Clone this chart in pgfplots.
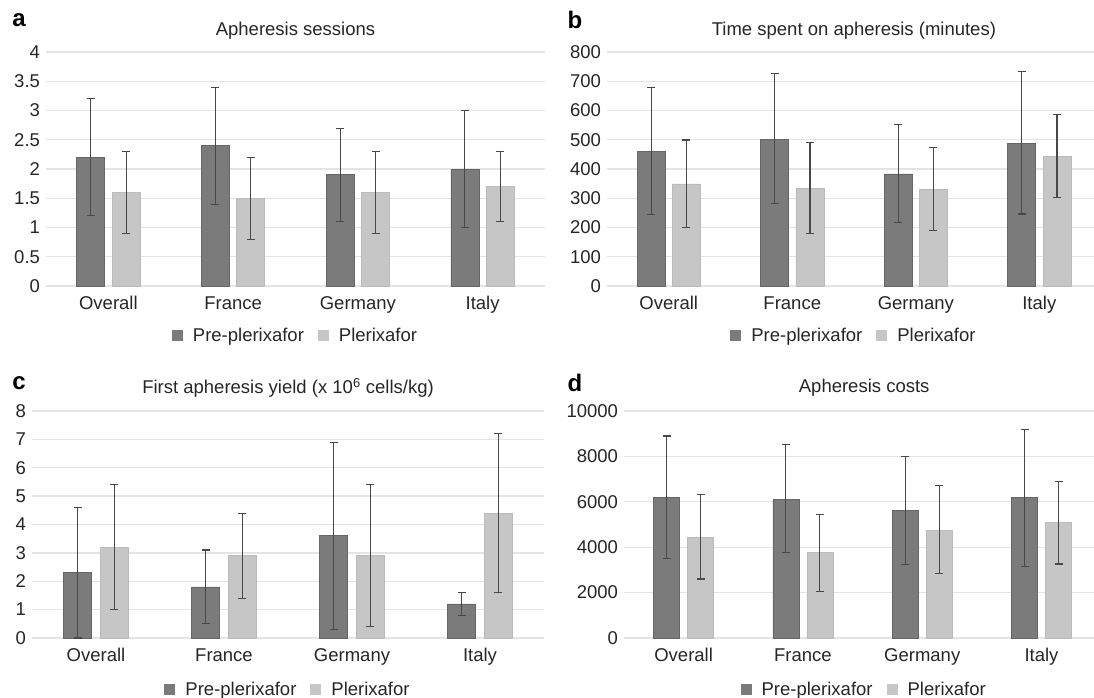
\documentclass[border=0pt]{standalone}
\usepackage{pgfplots}
\pgfplotsset{compat=1.18}
\usepackage{fontspec}
\setmainfont{Liberation Sans}
\definecolor{darkbar}{HTML}{7B7B7B}
\definecolor{darkedge}{HTML}{666666}
\definecolor{lightbar}{HTML}{C6C6C6}
\definecolor{lightedge}{HTML}{BBBBBB}
\definecolor{gridcol}{HTML}{E4E4E4}
\definecolor{errcol}{HTML}{484848}
\definecolor{txt}{HTML}{262626}
\pgfplotsset{
  panel/.style={
    scale only axis,
    ymin=0,
    xmin=-0.5,
    xtick={0,1,2,3},
    xticklabels={Overall,France,Germany,Italy},
    axis x line=bottom, axis y line=left,
    axis line style={draw=none},
    major tick length=0pt,
    tick style={draw=none},
    ymajorgrids,
    major grid style={line width=1.3pt, gridcol},
    font=\fontsize{18.5}{22}\selectfont,
    tick label style={font=\fontsize{18.5}{22}\selectfont, text=txt},
    yticklabel style={xshift=-2.5pt},
    xticklabel style={yshift=-7pt},
    /pgf/number format/assume math mode=true,
    /pgf/number format/1000 sep={},
    scaled y ticks=false,
    clip=false,
    legend columns=2,
    legend style={draw=none, fill=none, font=\fontsize{18.5}{22}\selectfont, text=txt,
      anchor=center, /tikz/every even column/.append style={column sep=12pt}},
    error bars/y dir=both, error bars/y explicit,
    error bars/error bar style={line width=1.1pt, errcol},
    error bars/error mark options={line width=1.1pt, errcol, mark size=4pt, rotate=90},
  },
  pre/.style={fill=darkbar, draw=darkedge, line width=0.8pt},
  pl/.style={fill=lightbar, draw=lightedge, line width=0.8pt},
}
\begin{document}
\begin{tikzpicture}
\useasboundingbox (0,0) rectangle (1094pt,697pt);
% ---------- a ----------
\begin{axis}[panel, at={(46pt,411pt)}, anchor=south west, width=499pt, height=234pt,
  xmax=3.5, ymax=4, ytick={0,0.5,...,4},
  ybar=7.4pt, bar width=28pt,
  legend style={at={(0.5,-0.213)}},
  legend image code/.code={\path[draw=none,fill=none] (0pt,0pt) rectangle (19pt,0.1pt); \fill[#1,draw=none] (0pt,-5.5pt) rectangle (11pt,5.5pt);}]
\addplot[pre] coordinates {(0,2.2) += (0,1.0) -= (0,1.0) (1,2.4) += (0,1.0) -= (0,1.0) (2,1.9) += (0,0.8) -= (0,0.8) (3,2.0) += (0,1.0) -= (0,1.0)};
\addplot[pl] coordinates {(0,1.6) += (0,0.7) -= (0,0.7) (1,1.5) += (0,0.7) -= (0,0.7) (2,1.6) += (0,0.7) -= (0,0.7) (3,1.7) += (0,0.6) -= (0,0.6)};
\legend{Pre-plerixafor, Plerixafor}
\node[text=txt, font=\fontsize{18.5}{22}\selectfont] at (axis description cs:0.5,1.092) {Apheresis sessions};
\end{axis}
% ---------- b ----------
\begin{axis}[panel, at={(607pt,411pt)}, anchor=south west, width=487pt, height=234pt,
  xmax=3.443, ymax=800, ytick={0,100,...,800},
  ybar=7.4pt, bar width=28pt,
  legend style={at={(0.507,-0.213)}},
  legend image code/.code={\path[draw=none,fill=none] (0pt,0pt) rectangle (19pt,0.1pt); \fill[#1,draw=none] (0pt,-5.5pt) rectangle (11pt,5.5pt);}]
\addplot[pre] coordinates {(0,460) += (0,220) -= (0,215) (1,500) += (0,227) -= (0,219) (2,383) += (0,169) -= (0,166) (3,488) += (0,245) -= (0,242)};
\addplot[pl] coordinates {(0,349) += (0,150) -= (0,150) (1,334) += (0,156) -= (0,153) (2,329) += (0,143) -= (0,139) (3,442) += (0,143) -= (0,140)};
\legend{Pre-plerixafor, Plerixafor}
\node[text=txt, font=\fontsize{18.5}{22}\selectfont] at (axis description cs:0.507,1.092) {Time spent on apheresis (minutes)};
\end{axis}
% ---------- c ----------
\begin{axis}[panel, at={(32pt,59pt)}, anchor=south west, width=512pt, height=227pt,
  xmax=3.5, ymax=8, ytick={0,1,...,8},
  ybar=8.4pt, bar width=28pt,
  legend style={at={(0.5,-0.225)}},
  legend image code/.code={\path[draw=none,fill=none] (0pt,0pt) rectangle (19pt,0.1pt); \fill[#1,draw=none] (0pt,-5.5pt) rectangle (11pt,5.5pt);}]
\addplot[pre] coordinates {(0,2.3) += (0,2.3) -= (0,2.3) (1,1.8) += (0,1.3) -= (0,1.3) (2,3.6) += (0,3.3) -= (0,3.3) (3,1.2) += (0,0.4) -= (0,0.4)};
\addplot[pl] coordinates {(0,3.2) += (0,2.2) -= (0,2.2) (1,2.9) += (0,1.5) -= (0,1.5) (2,2.9) += (0,2.5) -= (0,2.5) (3,4.4) += (0,2.8) -= (0,2.8)};
\legend{Pre-plerixafor, Plerixafor}
\node[text=txt, font=\fontsize{18.5}{22}\selectfont] at (axis description cs:0.5,1.103) {First apheresis yield (x 10\textsuperscript{6} cells/kg)};
\end{axis}
% ---------- d ----------
\begin{axis}[panel, at={(624pt,59pt)}, anchor=south west, width=470pt, height=227pt,
  xmax=3.44, ymax=10000, ytick={0,2000,...,10000},
  ybar=8pt, bar width=26pt,
  legend style={at={(0.511,-0.225)}},
  legend image code/.code={\path[draw=none,fill=none] (0pt,0pt) rectangle (19pt,0.1pt); \fill[#1,draw=none] (0pt,-5.5pt) rectangle (11pt,5.5pt);}]
\addplot[pre] coordinates {(0,6200) += (0,2700) -= (0,2700) (1,6100) += (0,2420) -= (0,2350) (2,5600) += (0,2400) -= (0,2350) (3,6200) += (0,3000) -= (0,3050)};
\addplot[pl] coordinates {(0,4430) += (0,1900) -= (0,1830) (1,3750) += (0,1690) -= (0,1700) (2,4750) += (0,1950) -= (0,1920) (3,5080) += (0,1820) -= (0,1820)};
\legend{Pre-plerixafor, Plerixafor}
\node[text=txt, font=\fontsize{18.5}{22}\selectfont] at (axis description cs:0.511,1.103) {Apheresis costs};
\end{axis}
% panel letters
\node[font=\fontsize{24}{28}\selectfont\bfseries] at (19pt,677pt) {a};
\node[font=\fontsize{24}{28}\selectfont\bfseries] at (575pt,677pt) {b};
\node[font=\fontsize{24}{28}\selectfont\bfseries] at (19pt,314pt) {c};
\node[font=\fontsize{24}{28}\selectfont\bfseries] at (575pt,314pt) {d};
\end{tikzpicture}
\end{document}
